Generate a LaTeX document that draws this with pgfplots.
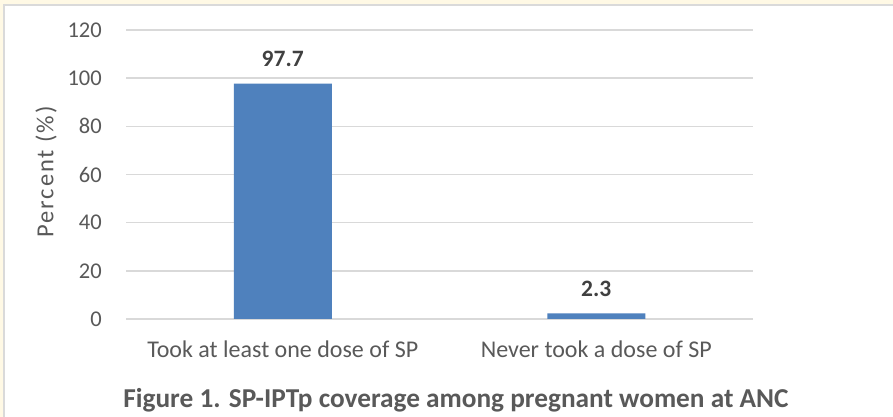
\documentclass[border=0pt]{standalone}
\usepackage{pgfplots}
\pgfplotsset{compat=1.18}
\usepackage{fontspec}
\setmainfont{Carlito}
\definecolor{barblue}{HTML}{4F81BD}
\definecolor{txtgrey}{HTML}{595959}
\definecolor{valgrey}{HTML}{404040}
\definecolor{gridgrey}{HTML}{D9D9D9}
\definecolor{cream}{HTML}{FFF9E5}
\definecolor{edgegrey}{HTML}{DADADA}
\begin{document}
\begin{tikzpicture}
% page frame
\useasboundingbox (0,0) rectangle (893pt,417pt);
\fill[cream] (0,0) rectangle (893pt,417pt);
\fill[white] (4pt,0) rectangle (893pt,412pt);
\draw[edgegrey, line width=1.2pt] (4pt,0) -- (4pt,412pt) -- (893pt,412pt);
\begin{axis}[
  at={(126pt,98pt)}, anchor=south west,
  scale only axis, width=627pt, height=289pt,
  ybar, bar width=98pt,
  xmin=-0.5, xmax=1.5, ymin=0, ymax=120,
  ytick={0,20,...,120},
  xtick={0,1},
  xticklabels={Took at least one dose of SP, Never took a dose of SP},
  major tick length=0pt,
  axis line style={draw=none},
  ymajorgrids, grid style={gridgrey, line width=1.5pt},
  clip=false,
  /pgf/number format/assume math mode=true,
  yticklabel style={font=\fontsize{22.5}{26}\selectfont, text=txtgrey, inner sep=0pt, xshift=-24pt},
  xticklabel style={font=\fontsize{24}{28}\selectfont, text=txtgrey, inner sep=0pt, anchor=north, yshift=-22pt},
  nodes near coords,
  every node near coord/.append style={font=\fontsize{23.5}{28}\selectfont\bfseries, text=valgrey, anchor=south, inner sep=0pt, yshift=17pt},
]
\addplot[fill=barblue, draw=none] coordinates {(0,97.7) (1,2.3)};
\end{axis}
\node[rotate=90, text=txtgrey, font=\fontsize{24.5}{28}\selectfont\addfontfeature{LetterSpace=8}] at (46pt,245pt) {Percent (\%)};
\node[text=txtgrey, font=\fontsize{27.3}{32}\selectfont\bfseries] at (456pt,17pt) {Figure 1. SP-IPTp coverage among pregnant women at ANC};
\end{tikzpicture}
\end{document}
